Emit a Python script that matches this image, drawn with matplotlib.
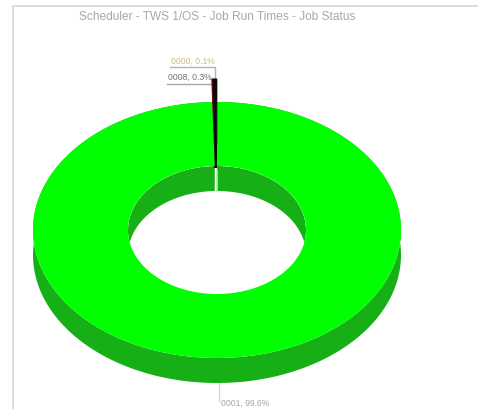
import numpy as np
import matplotlib
matplotlib.use('Agg')
import matplotlib.pyplot as plt
from matplotlib.patches import Ellipse, Polygon

title = 'Scheduler - TWS 1/OS - Job Run Times - Job Status'
labels = ['0001', '0000', '0008']
values = [99.6, 0.1, 0.3]
top_colors = ['#00ff00', '#5a0a10', '#0a0a0a']
wall_colors = ['#16b016', '#2a0a0a', '#050f05']
label_colors = ['#9aaa9a', '#c8b888', '#707078']
explode = [0, 23, 23]

# ring geometry in pixels
cx, cy = 217, 230
rx, ry = 184, 128
hole_rx, hole_ry = 89, 64
depth = 25


def arc(t0, t1, a, b, dx=0, dy=0):
    t = np.linspace(t0, t1, 400)
    return np.column_stack((cx + dx + a * np.sin(t), cy + dy - b * np.cos(t)))


def drawSlice(ax, t0, t1, top, wall, off):
    mid = (t0 + t1) / 2
    dx, dy = off * np.sin(mid), -off * np.cos(mid)
    # outer wall
    outer = arc(t0, t1, rx, ry, dx, dy)
    lowered = outer + [0, depth]
    ax.add_patch(Polygon(np.vstack((outer, lowered[::-1])), fc=wall, ec='none', zorder=2))
    # inner wall, only the back half can be seen
    inner_clip = Ellipse((cx + dx, cy + dy), 2 * hole_rx, 2 * hole_ry, transform=ax.transData)
    ts = np.linspace(t0, t1, 400)
    ts = ts[np.cos(ts) > 0]
    if len(ts) > 1:
        gaps = np.where(np.diff(ts) > 0.1)[0] + 1
        for part in np.split(ts, gaps):
            if len(part) < 2:
                continue
            edge = arc(part[0], part[-1], hole_rx, hole_ry, dx, dy)
            p = Polygon(np.vstack((edge, (edge + [0, depth])[::-1])), fc=wall, ec='none', zorder=3)
            ax.add_patch(p)
            p.set_clip_path(inner_clip)
    # top face, the pulled out slices get an outline or they vanish at this size
    face = np.vstack((arc(t0, t1, rx, ry, dx, dy), arc(t1, t0, hole_rx, hole_ry, dx, dy)))
    if off > 0:
        ax.add_patch(Polygon(face, fc=top, ec=top, lw=0.8, zorder=5))
    else:
        ax.add_patch(Polygon(face, fc=top, ec='none', zorder=4))


fig = plt.figure(figsize=(4.78, 4.09), dpi=100)
ax = fig.add_axes([0, 0, 1, 1])
ax.set_xlim(0, 478)
ax.set_ylim(409, 0)
ax.axis('off')

plt.rcParams['font.family'] = ['Liberation Sans', 'DejaVu Sans']

# chart frame
ax.plot([13, 13], [6, 409], color='#dcdcdc', lw=1.4)
ax.plot([13, 478], [6, 6], color='#dcdcdc', lw=1.4)

ax.text(217, 17, title, ha='center', va='center', fontsize=8.6, color='#a8a8a8')

edges = np.concatenate(([0], np.cumsum(values))) / np.sum(values) * 2 * np.pi
for i in range(len(values)):
    drawSlice(ax, edges[i], edges[i + 1], top_colors[i], wall_colors[i], explode[i])

# seam on the inner wall
ax.plot([217, 217], [170, 191], color='#a8f0a8', lw=1.2, zorder=5)

# leader lines and labels
ax.plot([170, 215, 215], [67, 67, 78], color='#b4b4b4', lw=1, zorder=1)
ax.plot([167, 212], [84, 84], color='#a8a8b0', lw=1, zorder=1)
ax.plot([219, 219], [383, 401], color='#c4e4c4', lw=1, zorder=1)
ax.text(171, 61, '%s, %.1f%%' % (labels[1], values[1]), ha='left', va='center', fontsize=6.2, color=label_colors[1])
ax.text(168, 77, '%s, %.1f%%' % (labels[2], values[2]), ha='left', va='center', fontsize=6.2, color=label_colors[2])
ax.text(221, 403, '%s, %.1f%%' % (labels[0], values[0]), ha='left', va='center', fontsize=6.2, color=label_colors[0])

fig.savefig('out.png', dpi=100)
